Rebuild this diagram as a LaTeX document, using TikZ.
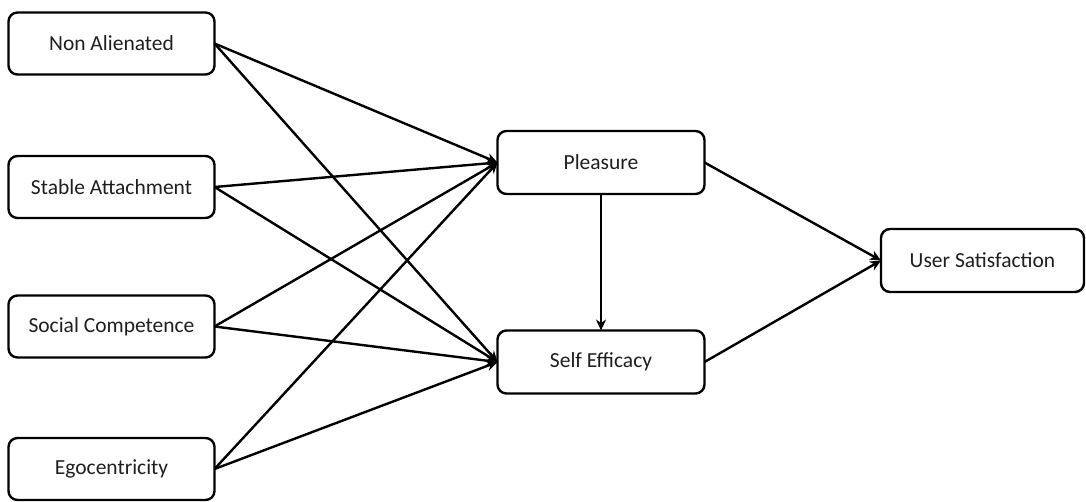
\documentclass[tikz,border=0pt]{standalone}
\usepackage{fontspec}
\setmainfont{Carlito}
\usetikzlibrary{arrows.meta}
\begin{document}
\begin{tikzpicture}[x=1pt,y=-1pt,
  box/.style={draw=black, line width=2.4pt, rounded corners=9pt, fill=white,
    minimum width=206pt, minimum height=62pt, inner sep=0pt, outer sep=0pt,
    font=\fontsize{21.5}{24}\selectfont, text=black!88},
  conn/.style={line width=2.4pt, -{Stealth[length=11pt,width=10pt]}}]
\useasboundingbox (0,0) rectangle (1086,501);
\node[box] (na) at (111.5,43.5) {Non Alienated};
\node[box] (sa) at (111.5,187) {Stable Attachment};
\node[box] (sc) at (111.5,326.5) {Social Competence};
\node[box] (eg) at (111.5,469) {Egocentricity};
\node[box, minimum width=207pt, minimum height=63pt] (pl) at (601,162.5) {Pleasure};
\node[box, minimum width=207pt, minimum height=63pt] (se) at (601,362) {Self Efficacy};
\node[box, minimum width=203pt, minimum height=63pt] (us) at (982.5,260.5) {User Satisfaction};
\foreach \s in {na,sa,sc,eg}{
  \draw[conn] (\s.east) -- (pl.west);
  \draw[conn] (\s.east) -- (se.west);
}
\draw[conn] (pl.south) -- (se.north);
\draw[conn] (pl.east) -- (us.west);
\draw[conn] (se.east) -- (us.west);
\end{tikzpicture}
\end{document}
